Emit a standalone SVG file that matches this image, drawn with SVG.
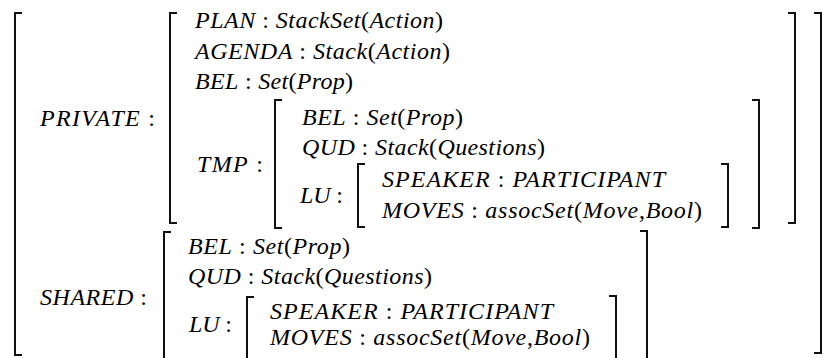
<svg xmlns="http://www.w3.org/2000/svg" width="823" height="358" viewBox="0 0 823 358">
<rect width="823" height="358" fill="#fff"/>
<g id="outer" fill="none" stroke="#111" stroke-width="2">
<path d="M22 13H15V355H22"/>
<path d="M814 13H821V353H814"/>
</g>
<g id="private">
<text font-family="Liberation Serif" font-size="24" font-style="italic" x="40" y="126" textLength="115" lengthAdjust="spacing">PRIVATE<tspan font-style="normal"> :</tspan></text>
<path fill="none" stroke="#111" stroke-width="2" d="M177 13H170V223H177"/>
<path fill="none" stroke="#111" stroke-width="2" d="M788 13H795V223H788"/>
<text font-family="Liberation Serif" font-size="24" font-style="italic" x="195" y="28" textLength="248" lengthAdjust="spacing">PLAN<tspan font-style="normal"> : </tspan>StackSet<tspan font-style="normal">(</tspan>Action<tspan font-style="normal">)</tspan></text>
<text font-family="Liberation Serif" font-size="24" font-style="italic" x="195" y="59" textLength="255" lengthAdjust="spacing">AGENDA<tspan font-style="normal"> : </tspan>Stack<tspan font-style="normal">(</tspan>Action<tspan font-style="normal">)</tspan></text>
<text font-family="Liberation Serif" font-size="24" font-style="italic" x="195" y="89" textLength="158" lengthAdjust="spacing">BEL<tspan font-style="normal"> : </tspan>Set<tspan font-style="normal">(</tspan>Prop<tspan font-style="normal">)</tspan></text>
</g>
<g id="tmp">
<text font-family="Liberation Serif" font-size="24" font-style="italic" x="197" y="172" textLength="66" lengthAdjust="spacing">TMP<tspan font-style="normal"> :</tspan></text>
<path fill="none" stroke="#111" stroke-width="2" d="M282 100H275V228H282"/>
<path fill="none" stroke="#111" stroke-width="2" d="M752 100H759V228H752"/>
<text font-family="Liberation Serif" font-size="24" font-style="italic" x="302" y="125" textLength="161" lengthAdjust="spacing">BEL<tspan font-style="normal"> : </tspan>Set<tspan font-style="normal">(</tspan>Prop<tspan font-style="normal">)</tspan></text>
<text font-family="Liberation Serif" font-size="24" font-style="italic" x="302" y="155" textLength="243" lengthAdjust="spacing">QUD<tspan font-style="normal"> : </tspan>Stack<tspan font-style="normal">(</tspan>Questions<tspan font-style="normal">)</tspan></text>
</g>
<g id="private-lu">
<text font-family="Liberation Serif" font-size="24" font-style="italic" x="300" y="203" textLength="43" lengthAdjust="spacing">LU<tspan font-style="normal"> :</tspan></text>
<path fill="none" stroke="#111" stroke-width="2" d="M365 164H358V227H365"/>
<path fill="none" stroke="#111" stroke-width="2" d="M721 164H728V227H721"/>
<text font-family="Liberation Serif" font-size="24" font-style="italic" x="382" y="187" textLength="283" lengthAdjust="spacing">SPEAKER<tspan font-style="normal"> : </tspan>PARTICIPANT</text>
<text font-family="Liberation Serif" font-size="24" font-style="italic" x="382" y="218" textLength="320" lengthAdjust="spacing">MOVES<tspan font-style="normal"> : </tspan>assocSet<tspan font-style="normal">(</tspan>Move<tspan font-style="normal">,</tspan>Bool<tspan font-style="normal">)</tspan></text>
</g>
<g id="shared">
<text font-family="Liberation Serif" font-size="24" font-style="italic" x="40" y="305" textLength="107" lengthAdjust="spacing">SHARED<tspan font-style="normal"> :</tspan></text>
<path fill="none" stroke="#111" stroke-width="2" d="M171 232H164V362"/>
<path fill="none" stroke="#111" stroke-width="2" d="M640 231H647V362"/>
<text font-family="Liberation Serif" font-size="24" font-style="italic" x="188" y="254" textLength="162" lengthAdjust="spacing">BEL<tspan font-style="normal"> : </tspan>Set<tspan font-style="normal">(</tspan>Prop<tspan font-style="normal">)</tspan></text>
<text font-family="Liberation Serif" font-size="24" font-style="italic" x="188" y="284" textLength="244" lengthAdjust="spacing">QUD<tspan font-style="normal"> : </tspan>Stack<tspan font-style="normal">(</tspan>Questions<tspan font-style="normal">)</tspan></text>
</g>
<g id="shared-lu">
<text font-family="Liberation Serif" font-size="24" font-style="italic" x="189" y="332" textLength="43" lengthAdjust="spacing">LU<tspan font-style="normal"> :</tspan></text>
<path fill="none" stroke="#111" stroke-width="2" d="M254 297H247V362"/>
<path fill="none" stroke="#111" stroke-width="2" d="M609 296H616V362"/>
<text font-family="Liberation Serif" font-size="24" font-style="italic" x="270" y="319" textLength="283" lengthAdjust="spacing">SPEAKER<tspan font-style="normal"> : </tspan>PARTICIPANT</text>
<text font-family="Liberation Serif" font-size="24" font-style="italic" x="270" y="345" textLength="320" lengthAdjust="spacing">MOVES<tspan font-style="normal"> : </tspan>assocSet<tspan font-style="normal">(</tspan>Move<tspan font-style="normal">,</tspan>Bool<tspan font-style="normal">)</tspan></text>
</g>
</svg>
